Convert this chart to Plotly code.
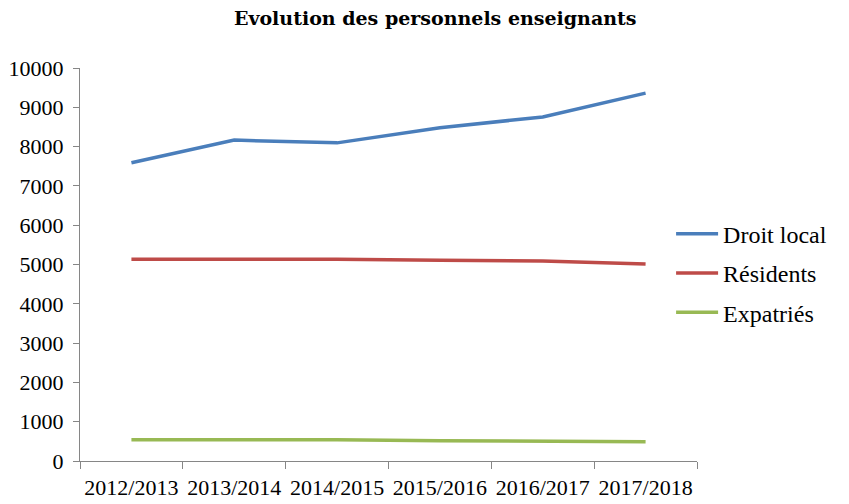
import plotly.graph_objects as go

categories = ["2012/2013", "2013/2014", "2014/2015", "2015/2016", "2016/2017", "2017/2018"]
droit_local = [7590, 8165, 8095, 8480, 8755, 9360]
residents = [5135, 5135, 5135, 5110, 5090, 5015]
expatries = [540, 540, 540, 515, 495, 492]

series = [
    ("Droit local", droit_local, "#4A7EBB"),
    ("Résidents", residents, "#BE4B48"),
    ("Expatriés", expatries, "#98B954"),
]

font_family = "Liberation Serif, serif"

fig = go.Figure()
for i, (name, vals, color) in enumerate(series):
    fig.add_trace(go.Scatter(
        x=categories, y=vals, name=name, mode="lines",
        line=dict(color=color, width=3.5),
        legendgroup=f"g{i}",
    ))

fig.update_layout(
    width=841, height=496,
    margin=dict(l=72, r=152, t=60, b=43, autoexpand=False),
    paper_bgcolor="white", plot_bgcolor="white",
    font=dict(family=font_family, size=22, color="black"),
    title=dict(text="<b>Evolution des personnels enseignants</b>",
               x=0.508, xanchor="center", y=0.98, yanchor="middle",
               font=dict(size=19, family="DejaVu Serif, serif")),
    showlegend=True,
    legend=dict(x=0.958, xanchor="left", y=0.478, yanchor="middle",
                font=dict(size=24), tracegroupgap=5, itemwidth=42,
                traceorder="grouped", bgcolor="rgba(0,0,0,0)"),
    xaxis=dict(type="category", range=[-0.5, 5.5], tickson="boundaries",
               showline=True, linecolor="#868686", linewidth=1,
               ticks="outside", ticklen=7, tickcolor="#868686",
               showgrid=False, zeroline=False, tickangle=0, automargin=False,
               ticklabelstandoff=7,
               tickfont=dict(size=22)),
    yaxis=dict(range=[0, 10000], dtick=1000, tickformat="d",
               showline=True, linecolor="#868686", linewidth=1,
               ticks="outside", ticklen=6, tickcolor="#868686",
               showgrid=False, zeroline=False, automargin=False,
               ticklabelstandoff=5,
               tickfont=dict(size=22)),
)

fig.write_html("out.html")
